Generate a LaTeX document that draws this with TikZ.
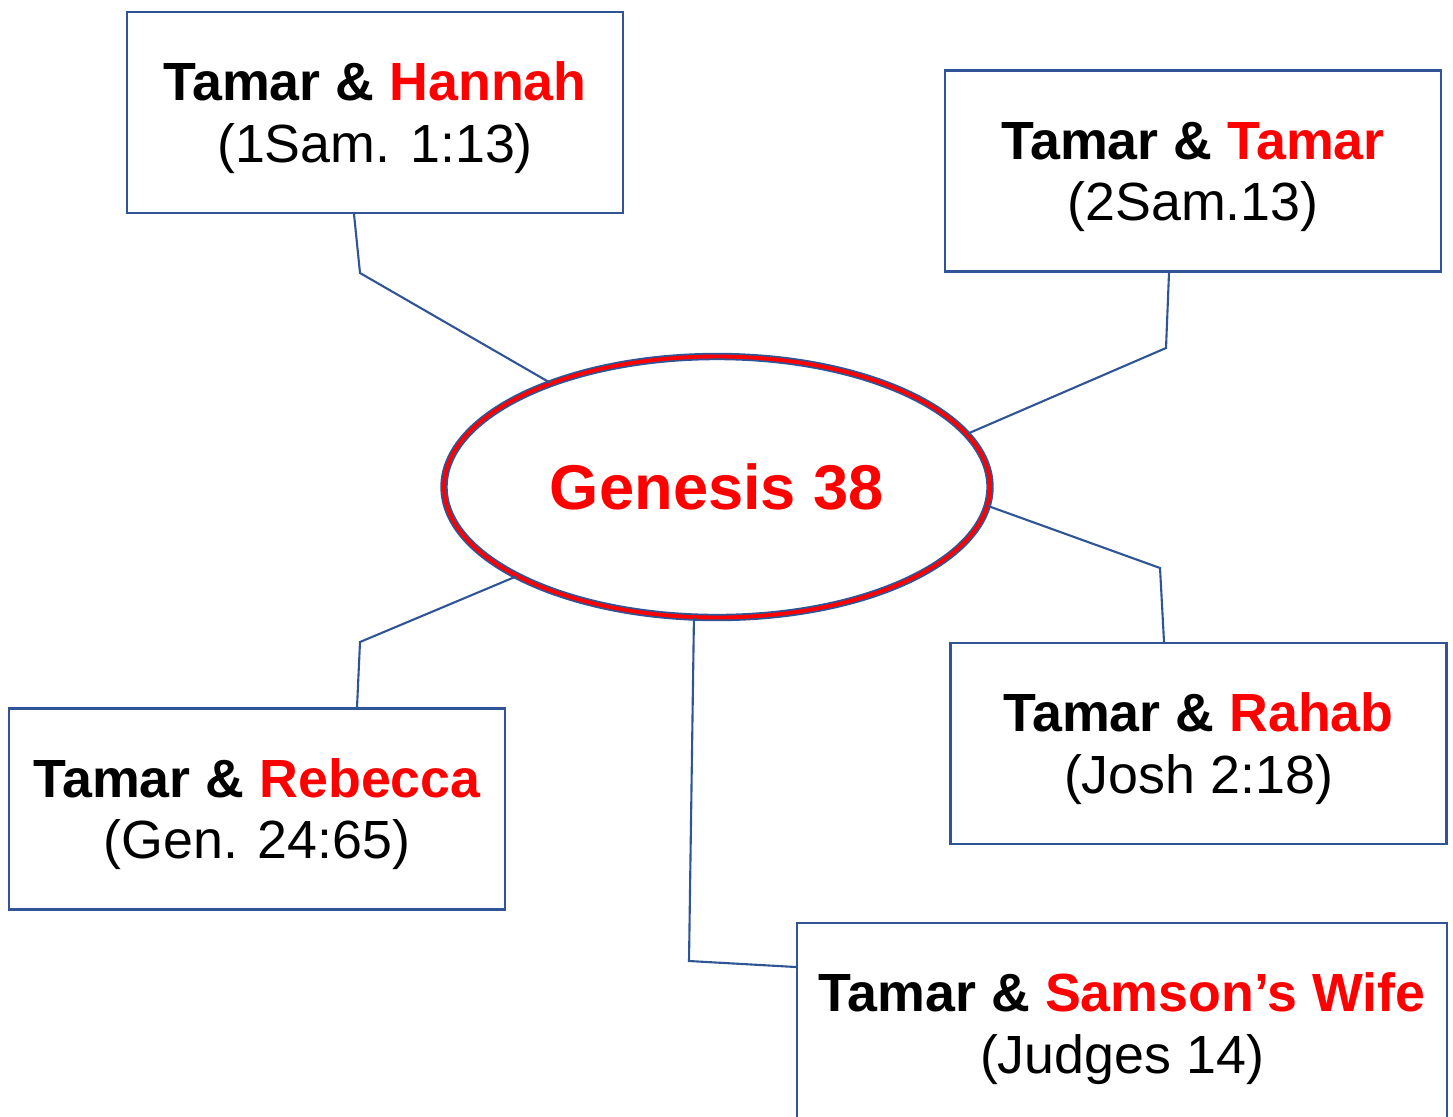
\documentclass[tikz,border=0pt]{standalone}
\usepackage{fontspec}
\setmainfont{Liberation Sans}
\usepackage{tikz}
\usetikzlibrary{shapes.geometric,positioning,calc}
\usepackage{xcolor}
\definecolor{linkblue}{RGB}{47,85,151}
\definecolor{namered}{RGB}{255,0,0}

\newcommand{\pair}[2]{\rule{0pt}{14pt}\textbf{Tamar \& \textcolor{namered}{#1}}\\#2}

\begin{document}
\begin{tikzpicture}[
  refbox/.style={draw=linkblue, line width=0.6pt, fill=white, align=center,
    minimum width=4.96cm, minimum height=2.01cm, inner sep=0pt,
    font=\fontsize{15.3}{17.6}\selectfont},
  link/.style={draw=linkblue, line width=0.6pt}
]
\useasboundingbox (0,0) rectangle (14.53,11.16);

% Centre
\node[ellipse, draw=linkblue, line width=0.5pt, double=namered, double distance=1.1pt,
  minimum width=5.46cm, minimum height=2.61cm, text=namered,
  font=\fontsize{18}{21}\selectfont\bfseries] (gen) at (7.17,6.29) {Genesis 38};

% Boxes
\node[refbox] (hannah) at (3.75,10.035) {\pair{Hannah}{(1Sam. 1:13)}};
\node[refbox] (tamar) at (11.93,9.45) {\pair{Tamar}{(2Sam.13)}};
\node[refbox] (rahab) at (11.985,3.725) {\pair{Rahab}{(Josh 2:18)}};
\node[refbox] (rebecca) at (2.57,3.07) {\pair{Rebecca}{(Gen. 24:65)}};
\node[refbox, minimum width=6.5cm] (samson) at (11.22,0.925) {\pair{Samson’s Wife}{(Judges 14)}};

% Bends
\coordinate (hbend) at (3.60,8.43);
\coordinate (tbend) at (11.66,7.68);
\coordinate (rbend) at (11.60,5.48);
\coordinate (ebend) at (3.60,4.74);
\coordinate (sbend) at (6.89,1.55);

% Links
\draw[link] ([xshift=-2.1mm]hannah.south) -- (hbend) -- (gen.148);
\draw[link] ([xshift=-2.4mm]tamar.south) -- (tbend) -- (gen.12.6);
\draw[link] ([xshift=-3.45mm]rahab.north) -- (rbend) -- (gen.-4.85);
\draw[link] ([xshift=10mm]rebecca.north) -- (ebend) -- (gen.204.4);
\draw[link] (gen.260) -- (sbend) -- ([yshift=5.65mm]samson.west);
\end{tikzpicture}
\end{document}
